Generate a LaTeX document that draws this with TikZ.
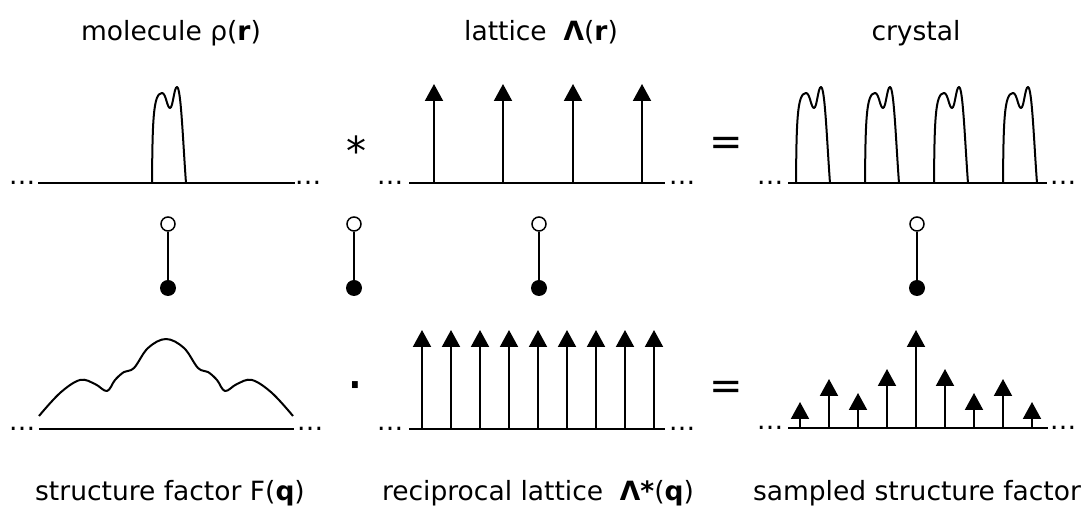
\documentclass[tikz,border=0pt]{standalone}
\usepackage{fontspec}
\setmainfont{DejaVu Sans}
\usetikzlibrary{arrows.meta}
\tikzset{
  axis/.style={line width=1pt},
  curve/.style={line width=1pt,line join=round},
  stick/.style={line width=1pt,-{Triangle[width=9pt,length=8.5pt]}},
  stem/.style={line width=0.8pt},
  dots/.style={anchor=base,inner sep=0pt,font=\fontsize{13.25}{16}\selectfont},
  lbl/.style={anchor=base,inner sep=0pt,font=\fontsize{13.25}{16}\selectfont},
  op/.style={anchor=base,inner sep=0pt,font=\fontsize{20}{24}\selectfont},
  opencirc/.style={circle,draw,fill=white,line width=0.75pt,minimum size=7pt,inner sep=0pt},
  fullcirc/.style={circle,fill=black,minimum size=8pt,inner sep=0pt},
  molpeak/.pic={\draw[curve] (0,0) .. controls (0.5,-60) and (1,-90) .. (10,-90)
     .. controls (14,-90) and (15,-75) .. (18,-75) .. controls (21,-75) and (22,-96) .. (25,-96)
     .. controls (29,-96) and (31,-40) .. (34,0);}
}
\begin{document}
\begin{tikzpicture}[x=0.5pt,y=-0.5pt]
\useasboundingbox (0,0) rectangle (1084,507);
% titles
\node[lbl] (tmol) at (171,41) {molecule ρ(\textbf{r})};
\node[lbl] (tlat) at (541,41) {lattice~ \textbf{Λ}(\textbf{r})};
\node[lbl] (tcry) at (916,41) {crystal};
\node[lbl] (bsf) at (170,501) {structure factor F(\textbf{q})};
\node[lbl] (brec) at (538,501) {reciprocal lattice~ \textbf{Λ*}(\textbf{q})};
\node[lbl] (bsam) at (917,501) {sampled structure factor};
% real space
\node[dots] (d1) at (22,184.5) {…};  \node[dots] (d2) at (308,184.5) {…};
\draw[axis] (38,183) -- (295,183);
\pic at (152,183) {molpeak};
\node[op] (conv) at (356,166) {*};
\node[dots] (d3) at (390,184.5) {…};  \node[dots] (d4) at (682,184.5) {…};
\draw[axis] (409,183) -- (665,183);
\foreach \x in {434,503,573,642} \draw[stick] (\x,183) -- (\x,84);
\node[op] (eq1) at (726,155.5) {=};
\node[dots] (d5) at (770,184.5) {…};  \node[dots] (d6) at (1063,184.5) {…};
\draw[axis] (788,183) -- (1047,183);
\foreach \x in {796,865,934,1003} \pic at (\x,183) {molpeak};
% fourier pairs
\foreach \n/\x in {1/168,2/354,3/539,4/917}{
  \node[opencirc] (o\n) at (\x,224) {};
  \node[fullcirc] (f\n) at (\x,288) {};
  \draw[stem] (o\n) -- (f\n);
}
% reciprocal space
\node[dots] (e1) at (22,430.5) {…};  \node[dots] (e2) at (310,430.5) {…};
\draw[axis] (39,429) -- (294,429);
\draw[curve] plot[smooth,tension=0.6] coordinates {(39,416) (60,393) (80,380) (95,384) (107,391)
  (115,380) (124,372) (134,368) (148,348) (166,339) (184,348) (198,368) (208,372) (217,380)
  (225,391) (237,384) (252,380) (272,393) (293,416)};
\node[op,font=\fontsize{28}{32}\selectfont] (prod) at (355,405) {·};
\node[dots] (e3) at (390,430.5) {…};  \node[dots] (e4) at (682,430.5) {…};
\draw[axis] (409,429) -- (665,429);
\foreach \i in {0,...,8} \draw[stick] (422+29*\i,429) -- (422+29*\i,330);
\node[op] (eq2) at (726,400) {=};
\node[dots] (e5) at (770,429.5) {…};  \node[dots] (e6) at (1063,429.5) {…};
\draw[axis] (788,428) -- (1048,428);
\foreach \x/\t in {800/402,829/379,858/393,887/369,916/330,945/369,974/393,1003/379,1032/402}
  \draw[stick] (\x,428) -- (\x,\t);
\end{tikzpicture}
\end{document}
